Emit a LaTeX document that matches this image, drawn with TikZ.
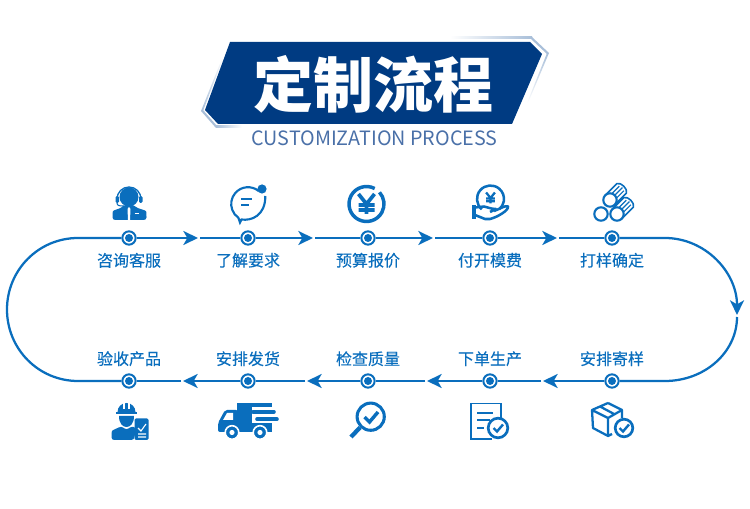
\documentclass[tikz,border=0pt]{standalone}
\usepackage{fontspec}
\usepackage{xcolor}
\newfontfamily\cjk{Noto Sans CJK SC}
\newfontfamily\cjkstep[FakeBold=0.25]{Noto Sans CJK SC}
\usetikzlibrary{arrows.meta,positioning}
\definecolor{flowblue}{HTML}{0A6EBD}
\definecolor{titlenavy}{HTML}{003B82}
\definecolor{titleedge}{HTML}{A9BFD9}
\definecolor{subblue}{HTML}{4A70A8}

\begin{document}
\begin{tikzpicture}[
  x=0.75pt, y=-0.75pt,
  flowline/.style={draw=flowblue, line width=1.7pt},
  flowtip/.style={-{Stealth[length=11pt,width=10.5pt,inset=3pt]}},
  stepdot/.style={draw=flowblue, line width=1.5pt, fill=white, circle, inner sep=0pt,
    minimum size=10pt, path picture={\fill[flowblue] (path picture bounding box.center) circle (3pt);}},
  steplabel/.style={font=\cjkstep\fontsize{12}{14}\selectfont, text=flowblue, inner sep=0pt},
  iconline/.style={draw=flowblue, line width=1.6pt}
]
\useasboundingbox (0,0) rectangle (750,509);

% Title banner
\fill[titlenavy] (230,42) -- (530,42) -- (542,54) -- (512,124) -- (218,124) -- (205,110) -- cycle;
\shade[left color=white, right color=titleedge] (450,37) rectangle (532,39);
\fill[titleedge] (532,37) -- (549,53) -- (547,54) -- (531,39) -- cycle;
\shade[top color=titleedge, bottom color=white] (547,53) -- (549,53) -- (528,103) -- (527,103) -- cycle;
\shade[top color=white, bottom color=titleedge] (223,56) -- (224,56) -- (203,111) -- (201,111) -- cycle;
\fill[titleedge] (201,111) -- (203,110) -- (217,126) -- (216,128) -- cycle;
\shade[left color=titleedge, right color=white] (216,126) rectangle (242,128);
\node[font=\cjk\bfseries\fontsize{45}{50}\selectfont, text=white, inner sep=0pt] (title) at (373,84) {定制流程};
\node[font=\cjk\fontsize{14.8}{18}\selectfont, text=subblue, inner sep=0pt] (subtitle) at (374.5,138.5) {CUSTOMIZATION PROCESS};

% Steps on the two rows
\foreach \n/\x/\y/\t in {1/129/238/咨询客服, 2/248/238/了解要求, 3/368/238/预算报价, 4/490/238/付开模费, 5/612/238/打样确定} {
  \node[stepdot] (s\n) at (\x,\y) {};
  \node[steplabel, below=5.2pt of s\n] (lab\n) {\t};
}
\foreach \n/\x/\y/\t in {6/612/381/安排寄样, 7/490/381/下单生产, 8/368/381/检查质量, 9/248/381/安排发货, 10/129/381/验收产品} {
  \node[stepdot] (s\n) at (\x,\y) {};
  \node[steplabel, above=5.2pt of s\n] (lab\n) {\t};
}

% Arrows between the steps
\foreach \a/\b/\x/\g/\y in {1/2/198/200/238, 2/3/313/315/238, 3/4/433/435/238, 4/5/557/559/238,
                            6/7/543/541/381, 7/8/427/425/381, 8/9/307/305/381, 9/10/183/181/381} {
  \coordinate (tip\a) at (\x,\y);
  \coordinate (gap\a) at (\g,\y);
  \draw[flowline, flowtip] (s\a) -- (tip\a);
  \draw[flowline] (gap\a) -- (s\b);
}

% Round ends
\coordinate (rtop) at (665,238);
\coordinate (rtip) at (737,315);
\coordinate (rgap) at (737,317);
\coordinate (rbot) at (665,381);
\coordinate (ltop) at (78,238);
\coordinate (lmid) at (7,309.5);
\coordinate (lbot) at (78,381);
\draw[flowline, flowtip] (s5) -- (rtop) .. controls (705,238) and (737,272) .. (rtip);
\draw[flowline] (rgap) .. controls (737,352) and (705,381) .. (rbot) -- (s6);
\draw[flowline] (s10) -- (lbot) .. controls (38.5,381) and (7,349) .. (lmid)
  .. controls (7,270) and (38.5,238) .. (ltop) -- (s1);

% Agent icon
\fill[flowblue] (129,197) circle (9.5);
\draw[iconline, line width=1pt] (117,199) arc (180:360:12);
\fill[flowblue, rounded corners=1pt] (115.5,196) rectangle (119,203);
\fill[flowblue, rounded corners=1pt] (139,196) rectangle (142.5,203);
\draw[iconline, line width=0.8pt] (117,203) .. controls (117,206) and (120,206) .. (124,206);
\fill[flowblue, rounded corners=2pt] (112.5,220) -- (112.5,214) .. controls (113,210) and (120,209) .. (124,205)
  -- (134,205) .. controls (138,209) and (146,210) .. (146.5,214) -- (146.5,220) -- cycle;
\fill[white] (129,207) -- (130.5,209) -- (130,220) -- (128,220) -- (127.5,209) -- cycle;
\draw[white, line width=1pt] (134.5,213.5) -- (139,213.5);

% Speech bubble icon
\begin{scope}[shift={(248,204)}]
  \draw[iconline] (310:16.8) arc (310:125:16.8) -- (-8,18.5) -- (-6.5,15.5) .. controls (3,17) and (17.5,12) .. (17.3,-8);
  \fill[flowblue] (14,-15) circle (4.6);
  \draw[iconline, line width=0.8pt] (-7,-5) -- (4,-5) (-7,1) -- (1,1);
\end{scope}

% Yen icons, large and on the coin
\draw[iconline, line width=2.6pt] (366.5,204) ++(-62:17.5) arc (-62:-402:17.5);
\foreach \cx/\cy/\k/\w in {366.5/204/1/2.8pt, 490.5/198/0.55/1.7pt} {
  \begin{scope}[shift={(\cx,\cy)}, scale=\k]
    \draw[flowblue, line width=\w] (-8,-10) -- (0,0) -- (8,-10) (0,0) -- (0,10) (-8,1) -- (8,1) (-8,6) -- (8,6);
  \end{scope}
}

% Coin in hand icon
\draw[iconline, line width=1.9pt] (490.5,199) ++(130:13.5) arc (130:410:13.5);
\fill[flowblue] (472,205) rectangle (476,219.5);
\draw[iconline, line width=1.9pt, line join=round] (475,207.5) -- (484,206.5) .. controls (488,207) and (490,209) .. (496,209)
  -- (490,212) (494,211) .. controls (500,209) and (505,205) .. (508,206.5)
  .. controls (509,210) and (498,217) .. (490,219) -- (485,219) -- (475,215);

% Logs icon
\foreach \cx/\cy in {617/214, 610/200} {
  \begin{scope}[shift={(\cx,\cy)}]
    \draw[iconline, line width=1.2pt] (-4.7,-4.7) -- (7,-16.4) .. controls (11,-18) and (18,-11) .. (16.4,-7) -- (4.7,4.7);
    \draw[iconline, line width=0.9pt] (1.8,-6.4) -- (9.3,-13.9) (4.7,-4.7) -- (12.4,-12.4) (6.4,-1.8) -- (13.9,-9.3);
  \end{scope}
}
\foreach \cx/\cy in {601/214, 617/214, 610/200} {
  \draw[iconline, fill=white] (\cx,\cy) circle (6.7);
}

% Worker icon
\fill[flowblue] (117.5,412) arc (180:360:9) -- cycle;
\draw[white, line width=0.9pt] (124,403) -- (124,409) (129,403) -- (129,409);
\fill[flowblue] (116,412.5) rectangle (137,414.5);
\fill[flowblue] (119,416) -- (134,416) .. controls (134,424) and (130,427) .. (126.5,427) .. controls (123,427) and (119,424) .. (119,416) -- cycle;
\fill[flowblue, rounded corners=2pt] (111.5,440) -- (111.5,434) .. controls (112,430) and (118,428) .. (121,426)
  -- (126.5,430) -- (132,426) -- (136,428) -- (134,440) -- cycle;
\fill[flowblue, rounded corners=1pt] (134.5,418.5) rectangle (148.5,440);
\draw[white, line width=0.8pt] (138,428) -- (141,431) -- (146,424) (138,434) -- (146,434) (138,437) -- (146,437);

% Truck icon
\fill[flowblue] (237,403) rectangle (272,407);
\fill[flowblue] (237,403) rectangle (252,432);
\fill[flowblue] (252,423) rectangle (272,432);
\fill[flowblue, rounded corners=1.5pt] (218,432) -- (218,423) -- (225,410) -- (238,410) -- (238,432) -- cycle;
\fill[white] (223,420) -- (227,413) -- (233,413) -- (233,420) -- cycle;
\draw[flowblue, line width=2.7pt, line cap=round] (253,411.8) -- (274,411.8) (257,419.2) -- (277,419.2);
\foreach \cx in {232,260} {
  \draw[draw=white, line width=1.2pt, fill=flowblue] (\cx,432.5) circle (6.8);
  \fill[white] (\cx,432.5) circle (2.6);
}

% Magnifier icon
\draw[iconline, line width=2.3pt] (370.7,416.7) circle (13.6);
\draw[flowblue, line width=3.2pt] (351,437) -- (360,427.5);
\draw[flowblue, line width=2.6pt] (364.5,417) -- (369.5,422) -- (378,412);

% Order sheet icon
\draw[iconline, line width=0.8pt] (471,403.5) -- (501,403.5) -- (501,418);
\draw[iconline, line width=2pt] (471,403) -- (471,439) -- (492,439);
\draw[iconline, line width=1.9pt] (477,413) -- (493,413) (477,420) -- (490,420) (477,428) -- (484,428);

% Parcel icon
\draw[iconline, line width=1.7pt, line join=round] (608,403) -- (622,410) -- (622,418) (608,403) -- (592,410) -- (593,428) -- (608,436) -- (612,434)
  (592,410) -- (608,418) -- (622,410) (608,418) -- (608,436) (600,406.5) -- (615,414.5);

% Ticks in a ring on the sheet and the parcel
\foreach \cx/\cy/\r in {498/428/9.8, 624/428/8.8} {
  \draw[iconline, line width=2pt, fill=white] (\cx,\cy) circle (\r);
  \draw[flowblue, line width=1.8pt] (\cx-4.5,\cy) -- (\cx-1,\cy+3.5) -- (\cx+5,\cy-3.5);
}
\end{tikzpicture}
\end{document}
